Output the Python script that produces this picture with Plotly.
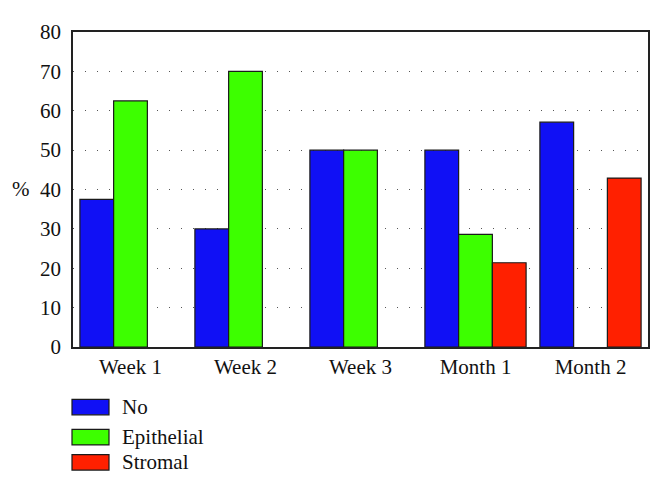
import plotly.graph_objects as go

categories = ["Week 1", "Week 2", "Week 3", "Month 1", "Month 2"]
series_names = ["No", "Epithelial", "Stromal"]
no_vals = [37.5, 30.0, 50.0, 50.0, 57.1]
epi_vals = [62.5, 70.0, 50.0, 28.6, 0.0]
str_vals = [0.0, 0.0, 0.0, 21.4, 42.9]
colors = ["#1010F5", "#3DFF00", "#FF2000"]
y_ticks = [0, 10, 20, 30, 40, 50, 60, 70, 80]

FONT = "Liberation Serif"
FS = 21
fig = go.Figure()
for name, vals, col in zip(series_names, [no_vals, epi_vals, str_vals], colors):
    fig.add_trace(go.Bar(
        x=categories, y=vals, name=name,
        marker=dict(color=col, line=dict(color="#1a1a1a",
                                         width=[1.2 if v > 0 else 0 for v in vals])),
        showlegend=False,
    ))

# page body has an 8px offset; margins compensate
OFF = 8
L, T, R, B = 73, 22, 648, 347
fig.update_layout(
    width=664, height=489,
    margin=dict(l=L - OFF, r=664 + OFF - R, t=T - OFF, b=489 + OFF - B),
    barmode="group", bargap=0.12, bargroupgap=0,
    plot_bgcolor="white", paper_bgcolor="white",
    font=dict(family=FONT, size=FS, color="#111"),
)
fig.update_xaxes(
    showline=True, linecolor="#222", linewidth=1.5, mirror=True,
    showgrid=False, ticks="", tickfont=dict(size=FS),
)
fig.update_yaxes(
    range=[0, 80], tickvals=y_ticks,
    showline=True, linecolor="#222", linewidth=1.5, mirror=True,
    showgrid=True, gridcolor="#555", gridwidth=1.3, griddash="1.3px,10.7px",
    zeroline=False, ticks="", ticklabelstandoff=6, tickfont=dict(size=FS),
)

PW, PH = R - L, B - T
fig.add_annotation(text="%", xref="paper", yref="paper", x=(21 - L) / PW, y=(B - 184) / PH,
                   xanchor="center", yanchor="middle", showarrow=False,
                   font=dict(size=FS, family=FONT))

# legend built manually (bottom left)
row_y = [409, 440, 466]
for name, col, yc in zip(series_names, colors, row_y):
    fig.add_shape(type="rect", xref="paper", yref="paper",
                  x0=(72 - L) / PW, x1=(109 - L) / PW,
                  y0=(B - (yc + 8)) / PH, y1=(B - (yc - 8)) / PH,
                  fillcolor=col, line=dict(color="#1a1a1a", width=1.2))
    fig.add_annotation(text=name, xref="paper", yref="paper",
                       x=(120 - L) / PW, y=(B - yc) / PH,
                       xanchor="left", yanchor="middle", showarrow=False,
                       font=dict(size=FS, family=FONT))

fig.write_html("out.html")
